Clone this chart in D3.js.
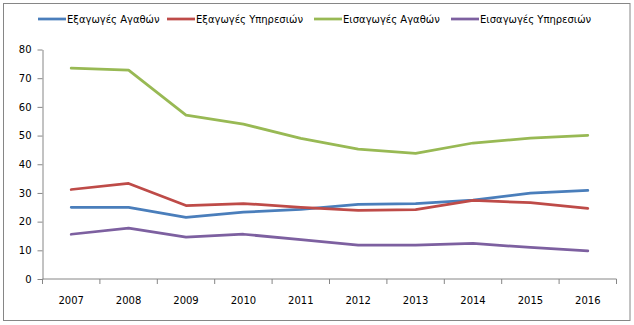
<!DOCTYPE html>
<html>
<head>
<meta charset="utf-8">
<script src="https://cdn.jsdelivr.net/npm/d3@7"></script>
<style>
  html, body { margin: 0; padding: 0; background: #fff; }
  svg text { font-family: "DejaVu Sans", sans-serif; font-size: 10px; fill: #000; }
</style>
</head>
<body>
<svg id="chart" width="634" height="325"></svg>
<script>
// Years on the category axis
const years = ["2007", "2008", "2009", "2010", "2011", "2012", "2013", "2014", "2015", "2016"];

// Series values
const exportsGoods    = [25.0, 25.0, 21.5, 23.3, 24.3, 26.0, 26.3, 27.5, 29.9, 30.9];
const exportsServices = [31.2, 33.3, 25.6, 26.3, 25.0, 23.9, 24.2, 27.4, 26.6, 24.6];
const importsGoods    = [73.5, 72.8, 57.1, 54.0, 49.0, 45.3, 43.8, 47.4, 49.1, 50.1];
const importsServices = [15.6, 17.7, 14.6, 15.6, 13.7, 11.8, 11.8, 12.4, 11.0, 9.8];

const seriesNames = ["Εξαγωγές Αγαθών", "Εξαγωγές Υπηρεσιών", "Εισαγωγές Αγαθών", "Εισαγωγές Υπηρεσιών"];
const yTicks = [0, 10, 20, 30, 40, 50, 60, 70, 80];

const series = [
  { name: seriesNames[0], values: exportsGoods,    color: "#4A7EBB" },
  { name: seriesNames[1], values: exportsServices, color: "#BE4B48" },
  { name: seriesNames[2], values: importsGoods,    color: "#98B954" },
  { name: seriesNames[3], values: importsServices, color: "#7D60A0" }
];

const svg = d3.select("#chart");
const axisColor = "#868686";

// Outer frame
svg.append("rect")
  .attr("x", 3.5).attr("y", 3.5).attr("width", 626.5).attr("height", 317)
  .attr("fill", "#fff").attr("stroke", axisColor).attr("stroke-width", 1);

const plot = { left: 42.5, right: 616.5, top: 49.5, bottom: 279 };

const x = d3.scaleBand().domain(years).range([plot.left, plot.right]);
const y = d3.scaleLinear().domain([0, 80]).range([plot.bottom, plot.top]);

// Y axis
const yAxis = svg.append("g")
  .attr("transform", `translate(${plot.left},0)`)
  .call(d3.axisLeft(y).tickValues(yTicks).tickSize(5).tickPadding(6).tickSizeOuter(0));
yAxis.select(".domain").attr("stroke", axisColor);
yAxis.selectAll(".tick line").attr("stroke", axisColor);
yAxis.selectAll("text").attr("font-family", "DejaVu Sans").attr("font-size", 10);

// X axis: ticks sit on the category boundaries
const xAxis = svg.append("g")
  .attr("transform", `translate(0,${plot.bottom})`);
xAxis.append("line")
  .attr("x1", plot.left).attr("x2", plot.right)
  .attr("stroke", axisColor);
const boundaries = years.map(d => x(d)).concat([x(years[years.length - 1]) + x.bandwidth()]);
xAxis.selectAll("line.tick")
  .data(boundaries)
  .join("line")
  .attr("class", "tick")
  .attr("x1", d => d).attr("x2", d => d)
  .attr("y1", 0).attr("y2", 5)
  .attr("stroke", axisColor);
xAxis.selectAll("text")
  .data(years)
  .join("text")
  .attr("x", d => x(d) + x.bandwidth() / 2)
  .attr("y", 25)
  .attr("text-anchor", "middle")
  .text(d => d);

// Lines
const line = d3.line()
  .x((d, i) => x(years[i]) + x.bandwidth() / 2)
  .y(d => y(d));

svg.append("g").selectAll("path")
  .data(series)
  .join("path")
  .attr("d", d => line(d.values))
  .attr("fill", "none")
  .attr("stroke", d => d.color)
  .attr("stroke-width", 2.75)
  .attr("stroke-linejoin", "round")
  .attr("stroke-linecap", "round");

// Legend
const legendStarts = [38, 167, 314, 451];
const legend = svg.append("g").attr("transform", "translate(0,19)");
const items = legend.selectAll("g")
  .data(series)
  .join("g")
  .attr("transform", (d, i) => `translate(${legendStarts[i]},0)`);
items.append("line")
  .attr("x1", 0).attr("x2", 28)
  .attr("stroke", d => d.color)
  .attr("stroke-width", 2.75);
items.append("text")
  .attr("x", 29)
  .attr("y", 4)
  .text(d => d.name);
</script>
</body>
</html>
